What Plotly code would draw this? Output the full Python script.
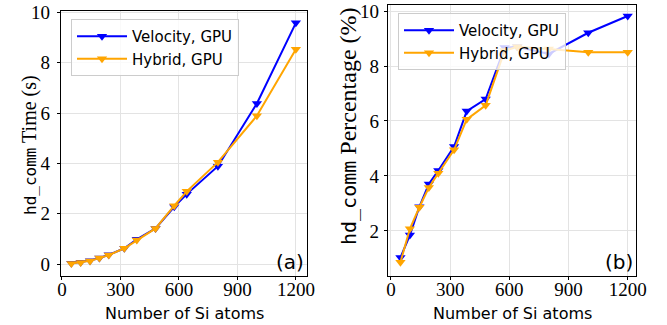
import plotly.graph_objects as go

atoms = [48, 96, 144, 192, 240, 320, 384, 480, 576, 640, 800, 1000, 1200]

time_velocity = [0.04, 0.08, 0.14, 0.24, 0.37, 0.63, 0.99, 1.42, 2.28, 2.78, 3.89, 6.38, 9.58]
time_hybrid = [0.03, 0.07, 0.13, 0.24, 0.36, 0.63, 0.96, 1.42, 2.32, 2.89, 4.05, 5.89, 8.53]

pct_velocity = [1.03, 1.85, 2.88, 3.71, 4.20, 5.07, 6.36, 6.80, 8.67, 8.70, 8.44, 9.21, 9.82]
pct_hybrid = [0.86, 2.08, 2.86, 3.58, 4.10, 4.95, 6.06, 6.57, 8.56, 8.70, 8.62, 8.50, 8.50]

x_ticks = [0, 300, 600, 900, 1200]
y_ticks_a = [0, 2, 4, 6, 8, 10]
y_ticks_b = [2, 4, 6, 8, 10]

x_title = "Number of Si atoms"
y_title_a = "Time (s)"
y_title_b = "Percentage (%)"
y_title_prefix = "hd_comm"

BLUE = "#0000ff"
ORANGE = "#ffa500"
SANS = "DejaVu Sans"
SERIF = "Liberation Serif"
MONO = "DejaVu Sans Mono"

fig = go.Figure()

def add(xs, ys, name, color, xa, ya, legend):
    fig.add_trace(go.Scatter(
        x=xs, y=ys, name=name, mode="lines+markers",
        line=dict(color=color, width=2),
        marker=dict(symbol="triangle-down", size=9, color=color),
        xaxis=xa, yaxis=ya, legend=legend,
    ))

add(atoms, time_velocity, "Velocity, GPU", BLUE, "x", "y", "legend")
add(atoms, time_hybrid, "Hybrid, GPU", ORANGE, "x", "y", "legend")
add(atoms, pct_velocity, "Velocity, GPU", BLUE, "x2", "y2", "legend2")
add(atoms, pct_hybrid, "Hybrid, GPU", ORANGE, "x2", "y2", "legend2")

W, H = 667, 325

def axis_common():
    return dict(
        showline=True, linecolor="black", linewidth=1.4, mirror=True,
        ticks="outside", ticklen=3, tickcolor="black", tickwidth=1,
        showgrid=True, gridcolor="#e3e3e3", gridwidth=1,
        zeroline=False, automargin=False,
        tickfont=dict(family=SERIF, size=19, color="black"),
    )

xa = axis_common()
xa.update(domain=[61 / W, 307 / W], range=[-5, 1257], tickvals=x_ticks,
          ticklabelstandoff=-7, anchor="y")
ya = axis_common()
ya.update(domain=[1 - 276 / H, 1 - 11 / H], range=[-0.47, 10.05], tickvals=y_ticks_a,
          ticklabelstandoff=3, anchor="x")
xb = axis_common()
xb.update(domain=[388 / W, 636 / W], range=[-15, 1242], tickvals=x_ticks,
          ticklabelstandoff=-7, anchor="y2")
yb = axis_common()
yb.update(domain=[1 - 276 / H, 1 - 5 / H], range=[0.36, 10.22], tickvals=y_ticks_b,
          ticklabelstandoff=1, anchor="x2")

legend_style = dict(
    bgcolor="rgba(255,255,255,0.8)", bordercolor="#cccccc", borderwidth=1,
    font=dict(family=SANS, size=15, color="black"),
    xanchor="left", yanchor="top", itemwidth=50, tracegroupgap=0,
)

def ytitle(rest, mono_size):
    return (f"<span style='font-family:{MONO};font-size:{mono_size}px'>{y_title_prefix}</span>"
            f" {rest}")

xtitle_font = dict(family=SANS, size=16, color="black")

fig.update_layout(
    width=W, height=H,
    margin=dict(l=0, r=0, t=0, b=0),
    paper_bgcolor="white", plot_bgcolor="white",
    xaxis=xa, yaxis=ya, xaxis2=xb, yaxis2=yb,
    legend=dict(x=71 / W, y=1 - 19 / H, **legend_style),
    legend2=dict(x=398 / W, y=1 - 13 / H, **legend_style),
    annotations=[
        dict(text="(a)", xref="x domain", yref="y domain", x=1, y=0,
             xanchor="right", yanchor="bottom", showarrow=False, xshift=-1, yshift=0,
             font=dict(family=SANS, size=20, color="black")),
        dict(text="(b)", xref="x2 domain", yref="y2 domain", x=1, y=0,
             xanchor="right", yanchor="bottom", showarrow=False, xshift=-1, yshift=0,
             font=dict(family=SANS, size=20, color="black")),
        dict(text=x_title, xref="paper", yref="paper", x=184 / W, y=1 - 313 / H,
             xanchor="center", yanchor="middle", showarrow=False, font=xtitle_font),
        dict(text=x_title, xref="paper", yref="paper", x=512 / W, y=1 - 313 / H,
             xanchor="center", yanchor="middle", showarrow=False, font=xtitle_font),
        dict(text=ytitle(y_title_a, 16), xref="paper", yref="paper", x=29 / W, y=1 - 145 / H,
             xanchor="center", yanchor="middle", textangle=-90, showarrow=False,
             font=dict(family=SERIF, size=20, color="black")),
        dict(text=ytitle(y_title_b, 20), xref="paper", yref="paper", x=348 / W, y=1 - 126 / H,
             xanchor="center", yanchor="middle", textangle=-90, showarrow=False,
             font=dict(family=SERIF, size=24, color="black")),
    ],
)

fig.write_html("out.html", config={"displayModeBar": False},
               post_script="document.body.style.margin='0';document.body.style.overflow='hidden';")
